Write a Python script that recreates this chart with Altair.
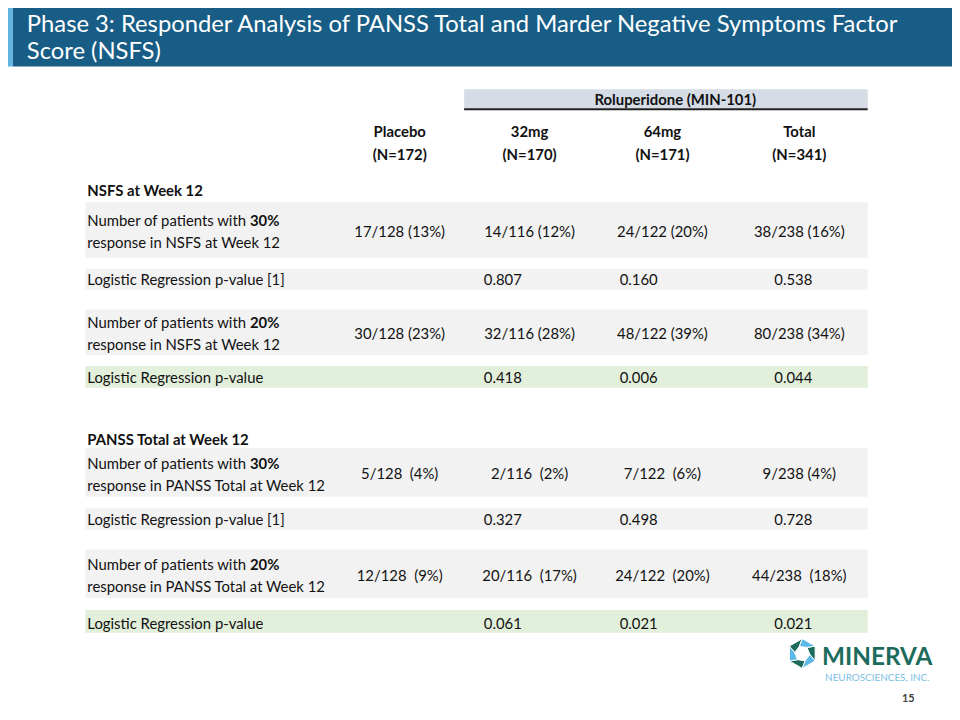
import math
import altair as alt
import pandas as pd

# ---------------- data ----------------
title_lines = [
    "Phase 3: Responder Analysis of PANSS Total and Marder Negative Symptoms Factor",
    "Score (NSFS)",
]
group_header = "Roluperidone (MIN-101)"
arms = ["Placebo", "32mg", "64mg", "Total"]
arm_n = ["(N=172)", "(N=170)", "(N=171)", "(N=341)"]
sections = ["NSFS at Week 12", "PANSS Total at Week 12"]

nsfs_30_resp = ["17/128 (13%)", "14/116 (12%)", "24/122 (20%)", "38/238 (16%)"]
nsfs_30_p = ["", "0.807", "0.160", "0.538"]
nsfs_20_resp = ["30/128 (23%)", "32/116 (28%)", "48/122 (39%)", "80/238 (34%)"]
nsfs_20_p = ["", "0.418", "0.006", "0.044"]
panss_30_resp = ["5/128\u00a0 (4%)", "2/116\u00a0 (2%)", "7/122\u00a0 (6%)", "9/238 (4%)"]
panss_30_p = ["", "0.327", "0.498", "0.728"]
panss_20_resp = ["12/128\u00a0 (9%)", "20/116\u00a0 (17%)", "24/122\u00a0 (20%)", "44/238\u00a0 (18%)"]
panss_20_p = ["", "0.061", "0.021", "0.021"]

resp_head = "Number of patients with"
resp_levels = ["30%", "20%"]
resp_tails = ["response in NSFS at Week 12", "response in PANSS Total at Week 12"]
p_labels = ["Logistic Regression p-value [1]", "Logistic Regression p-value"]
page_number = "15"
logo_name = "MINERVA"
logo_sub = "NEUROSCIENCES, INC."

# ---------------- layout (page pixels) ----------------
FONT = "Lato"
COL_X = [403, 534, 668, 806]
P_X = [403, 507, 644, 800]
LABEL_X = 88
BOLD_X = 252
BAND_X0, BAND_X1 = 86, 875
GRAY, GREEN = "#f2f2f2", "#e2efda"

# (type, band top, band bottom, colour, baselines, values, section idx, level idx)
rows = [
    ("resp", 201, 257, GRAY, (225, 247, 236), nsfs_30_resp, 0, 0),
    ("p", 268, 289, GRAY, (284,), nsfs_30_p, 0, 0),
    ("resp", 309, 355, GRAY, (328, 350, 339), nsfs_20_resp, 0, 1),
    ("p", 366, 388, GREEN, (383,), nsfs_20_p, 0, 1),
    ("resp", 449, 498, GRAY, (470, 492, 480), panss_30_resp, 1, 0),
    ("p", 509, 531, GRAY, (526,), panss_30_p, 1, 0),
    ("resp", 551, 600, GRAY, (572, 594, 583), panss_20_resp, 1, 1),
    ("p", 612, 635, GREEN, (631,), panss_20_p, 1, 1),
]
section_y = [195, 446]

rects = [
    dict(x0=13, x1=960, y0=0, y1=64, c="#175d86"),
    dict(x0=0, x1=13, y0=0, y1=64, c="#62b5df"),
    dict(x0=468, x1=875, y0=87, y1=106, c="#d6dce5"),
    dict(x0=468, x1=875, y0=106, y1=108, c="#1f1f1f"),
]
texts = []


def add(x, y, t, style):
    texts.append(dict(px=x, py=y, text=t, style=style))


for i, line in enumerate(title_lines):
    add(27, [29, 56][i], line, "title")
add(681, 103, group_header, "hdr")
for i in range(4):
    add(COL_X[i], 135, arms[i], "hdr")
    add(COL_X[i], 158, arm_n[i], "hdr")
for s, y in zip(sections, section_y):
    add(LABEL_X, y, s, "sec")

for kind, y0, y1, col, ys, vals, si, li in rows:
    rects.append(dict(x0=BAND_X0, x1=BAND_X1, y0=y0, y1=y1, c=col))
    if kind == "resp":
        add(LABEL_X, ys[0], resp_head, "lab")
        add(BOLD_X, ys[0], resp_levels[li], "labb")
        add(LABEL_X, ys[1], resp_tails[si], "lab")
        for i, v in enumerate(vals):
            add(COL_X[i], ys[2], v, "val")
    else:
        add(LABEL_X, ys[0], p_labels[li], "lab")
        for i, v in enumerate(vals):
            if v:
                add(P_X[i], ys[0], v, "val")

add(829, 668, logo_name, "logo")
add(832, 684, logo_sub, "logosub")
add(916, 705, page_number, "pg")

rect_df = pd.DataFrame(rects)
text_df = pd.DataFrame(texts)

xs = alt.Scale(domain=[8, 960], range=[0, 952], zero=False, nice=False)
ys_ = alt.Scale(domain=[8, 720], range=[0, 712], zero=False, nice=False)

rect_layer = alt.Chart(rect_df).mark_rect(strokeWidth=0).encode(
    x=alt.X("x0:Q", scale=xs, axis=None),
    x2="x1:Q",
    y=alt.Y("y0:Q", scale=ys_, axis=None),
    y2="y1:Q",
    color=alt.Color("c:N", scale=None),
)

styles = {
    "title": dict(align="left", fontSize=24, fontWeight="normal", color="#ffffff"),
    "hdr": dict(align="center", fontSize=15, fontWeight="bold", color="#111111"),
    "sec": dict(align="left", fontSize=15, fontWeight="bold", color="#111111"),
    "lab": dict(align="left", fontSize=15, fontWeight="normal", color="#111111"),
    "labb": dict(align="left", fontSize=15, fontWeight="bold", color="#111111"),
    "val": dict(align="center", fontSize=15, fontWeight="normal", color="#111111"),
    "logo": dict(align="left", fontSize=24.5, fontWeight="bold", color="#1c6b5c"),
    "logosub": dict(align="left", fontSize=10, fontWeight="normal", color="#7cc0e3"),
    "pg": dict(align="center", fontSize=11, fontWeight="bold", color="#404040"),
}

text_layers = []
for name, st in styles.items():
    text_layers.append(
        alt.Chart(text_df)
        .transform_filter(alt.datum.style == name)
        .mark_text(baseline="alphabetic", font=FONT, **st)
        .encode(
            x=alt.X("px:Q", scale=xs, axis=None),
            y=alt.Y("py:Q", scale=ys_, axis=None),
            text="text:N",
        )
    )

# logo icon: pinwheel hexagon drawn as custom symbol paths
def seg(k):
    a0 = math.radians(90 + 60 * k)
    a1 = math.radians(90 + 60 * (k + 1))
    r_in = 0.52
    off = math.radians(22)
    o0 = (math.cos(a0), -math.sin(a0))
    o1 = (math.cos(a1), -math.sin(a1))
    i1 = (r_in * math.cos(a1 + off), -r_in * math.sin(a1 + off))
    i0 = (r_in * math.cos(a0 + off), -r_in * math.sin(a0 + off))
    pts = [o0, o1, i1, i0]
    return "M" + " L".join(f"{x:.3f},{y:.3f}" for x, y in pts) + " Z"


green_path = " ".join(seg(k) for k in (0, 2, 4))
blue_path = " ".join(seg(k) for k in (1, 3, 5))
icon_df = pd.DataFrame([dict(px=809, py=656)])
icon_layers = [
    alt.Chart(icon_df)
    .mark_point(shape=p, size=900, filled=True, opacity=1, color=c, stroke="white", strokeWidth=1)
    .encode(x=alt.X("px:Q", scale=xs, axis=None), y=alt.Y("py:Q", scale=ys_, axis=None))
    for p, c in ((green_path, "#1c6b5c"), (blue_path, "#5cb8e6"))
]

chart = (
    alt.layer(rect_layer, *text_layers, *icon_layers)
    .properties(
        width=952,
        height=712,
        background="white",
        padding=0,
        autosize=alt.AutoSizeParams(type="none"),
    )
    .configure_view(stroke=None)
)

chart.save("out.html", embed_options={"renderer": "svg", "actions": False})
